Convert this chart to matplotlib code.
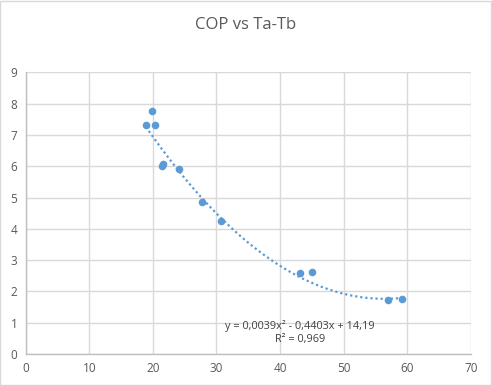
import matplotlib
matplotlib.use("Agg")
import matplotlib.pyplot as plt
import numpy as np
from matplotlib.patches import Rectangle

# Data
ta_tb = [18.9, 19.9, 20.4, 21.5, 21.6, 24.15, 27.8, 30.75, 43.2, 45.1, 56.9, 59.2]
cop = [7.33, 7.76, 7.33, 6.01, 6.08, 5.91, 4.86, 4.24, 2.58, 2.61, 1.72, 1.75]

# Trendline coefficients (as shown on the chart)
coef = [0.0039, -0.4403, 14.19]
eq_label = "y = 0,0039x² - 0,4403x + 14,19"
r2_label = "R² = 0,969"
title = "COP vs Ta-Tb"

x_ticks = [0, 10, 20, 30, 40, 50, 60, 70]
y_ticks = [0, 1, 2, 3, 4, 5, 6, 7, 8, 9]

plt.rcParams['font.family'] = ['Open Sans', 'DejaVu Sans']

fig = plt.figure(figsize=(4.92, 3.85), dpi=100)
fig.patch.set_facecolor("white")
fig.patches.append(Rectangle((0.001, 0.001), 0.997, 0.997, transform=fig.transFigure,
                             fill=False, edgecolor="#D9D9D9", linewidth=1))

ax = fig.add_axes([0.0522, 0.0805, 0.957 - 0.0522, 0.812 - 0.0805])
ax.set_xlim(0, 70)
ax.set_ylim(0, 9)
ax.set_xticks(x_ticks)
ax.set_yticks(y_ticks)
ax.grid(True, color="#D9D9D9", linewidth=1)
ax.set_axisbelow(True)
for s in ["top", "right"]:
    ax.spines[s].set_visible(False)
for s in ["left", "bottom"]:
    ax.spines[s].set_color("#BFBFBF")
    ax.spines[s].set_linewidth(1)
ax.tick_params(length=0, labelsize=8.5, labelcolor="#595959", pad=6)

xs = np.linspace(min(ta_tb), max(ta_tb), 200)
ax.plot(xs, np.polyval(coef, xs), linestyle=(0, (1, 1.3)), color="#5B9BD5",
        linewidth=1.6, zorder=2)
ax.scatter(ta_tb, cop, s=30, color="#5B9BD5", zorder=3, linewidths=0)

ax.text(43.1, 0.9, eq_label, ha="center", va="center", fontsize=7.8, color="#404040")
ax.text(43.1, 0.47, r2_label, ha="center", va="center", fontsize=7.8, color="#404040")

fig.text(0.5, 1 - 29 / 385, title, ha="center", va="baseline", fontsize=12, color="#595959")

fig.savefig("out.png", dpi=100, facecolor="white")
